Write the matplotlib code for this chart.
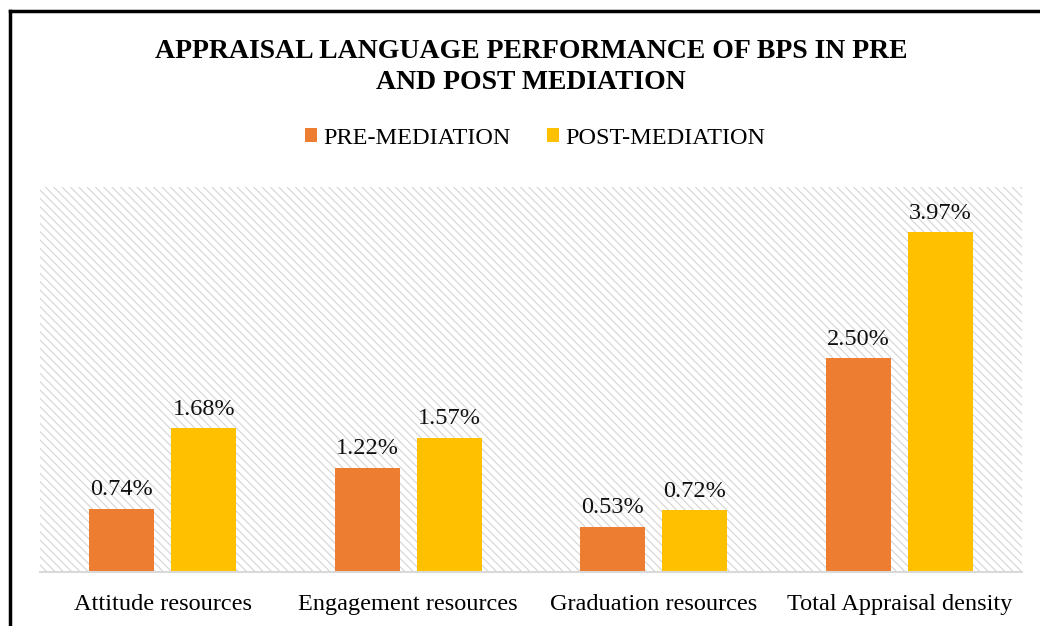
import matplotlib
matplotlib.use("Agg")
import matplotlib.pyplot as plt
from matplotlib.patches import Rectangle
from matplotlib.lines import Line2D
import numpy as np

categories = ["Attitude resources", "Engagement resources", "Graduation resources", "Total Appraisal density"]
pre_values = [0.74, 1.22, 0.53, 2.50]
post_values = [1.68, 1.57, 0.72, 3.97]
series_names = ["PRE-MEDIATION", "POST-MEDIATION"]
colors = ["#ED7D31", "#FFC000"]
title = "APPRAISAL LANGUAGE PERFORMANCE OF BPS IN PRE\nAND POST MEDIATION"

plt.rcParams['font.family'] = ['Liberation Serif', 'DejaVu Serif']
plt.rcParams['hatch.linewidth'] = 0.8
plt.rcParams['hatch.color'] = '#D4D4D4'

fig = plt.figure(figsize=(10.4, 6.26), dpi=100)
fig.patch.set_facecolor('white')

ax = fig.add_axes([40/1040, 54/626, 982/1040, 385/626])
ax.set_xlim(-0.5, 3.5)
ax.set_ylim(0, 4.5)

# hatched background
bg = Rectangle((0, 0), 1, 1, transform=ax.transAxes, facecolor='white',
               edgecolor='#D4D4D4', hatch='\\' * 4, linewidth=0, zorder=0)
ax.add_patch(bg)

x = np.arange(len(categories))
w = 0.265
off = 0.167
b1 = ax.bar(x - off, pre_values, w, color=colors[0], zorder=2, label=series_names[0])
b2 = ax.bar(x + off, post_values, w, color=colors[1], zorder=2, label=series_names[1])

for bars, vals in ((b1, pre_values), (b2, post_values)):
    for r, v in zip(bars, vals):
        ax.annotate(f"{v:.2f}%", (r.get_x() + r.get_width()/2, r.get_height()),
                    xytext=(0, 6), textcoords='offset points', ha='center', va='bottom',
                    fontsize=17.5, color='#111111', zorder=3)

for s in ['top', 'right', 'left']:
    ax.spines[s].set_visible(False)
ax.spines['bottom'].set_color('#D9D9D9')
ax.spines['bottom'].set_linewidth(1.5)
ax.set_yticks([])
ax.set_xticks(x)
ax.set_xticklabels(categories, fontsize=17.5)
ax.tick_params(axis='x', length=0, pad=16)

fig.text(531/1040, 1 - 67/626, title, ha='center', va='center', fontsize=20,
         fontweight='bold', linespacing=1.3)

leg = fig.legend(handles=[b1, b2], labels=series_names, loc='center',
                 bbox_to_anchor=(535/1040, 1 - 138/626), ncol=2, frameon=False,
                 fontsize=17.5, handlelength=0.5, handleheight=0.5, handletextpad=0.25,
                 columnspacing=1.5)

# outer frame (left and top visible)
fig.add_artist(Line2D([10/1040, 10/1040], [0, 1 - 11/626], color='black', linewidth=2.5,
                      transform=fig.transFigure))
fig.add_artist(Line2D([10/1040, 1.0], [1 - 11/626, 1 - 11/626], color='black', linewidth=2.5,
                      transform=fig.transFigure))

fig.savefig("out.png", dpi=100)
